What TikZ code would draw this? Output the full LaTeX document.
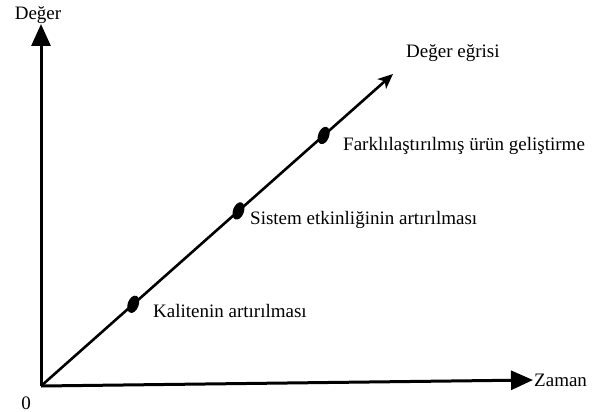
\documentclass[tikz,border=0pt]{standalone}
\usepackage{fontspec}
\setmainfont{Liberation Serif}
\usetikzlibrary{arrows.meta,shapes.geometric}

\begin{document}
\begin{tikzpicture}[x=1pt, y=-1pt, font=\fontsize{19}{22}\selectfont,
		axis/.style={line width=3pt, -{Triangle[length=22pt,width=19pt]}},
		curve/.style={line width=2.6pt, -{Stealth[length=15pt,width=13pt,inset=4pt]}},
		dot/.style={ellipse, fill, inner sep=0pt, minimum width=11pt, minimum height=18pt, rotate=-20},
		lbl/.style={inner sep=0pt}]
		\useasboundingbox (0,0) rectangle (594,412);
		\coordinate (O) at (41,386);
		\coordinate (ytip) at (41,24);
		\coordinate (xtip) at (533,380);
		\coordinate (vtip) at (393,74);
		\draw[axis] (O) -- (ytip);
		\draw[axis] (O) -- (xtip);
		\draw[curve] (O) -- (vtip)
			node[dot, pos=0.262] (d1) {}
			node[dot, pos=0.561] (d2) {}
			node[dot, pos=0.803] (d3) {};
		\node[lbl] (ylab) at (38,15) {Değer};
		\node[lbl, anchor=west] (xlab) at (534,380) {Zaman};
		\node[lbl] (zero) at (26,403) {0};
		\node[lbl, anchor=west] (vlab) at (406,53) {Değer eğrisi};
		\node[lbl, anchor=west] (l1) at (153,311) {Kalitenin artırılması};
		\node[lbl, anchor=west] (l2) at (250,220) {Sistem etkinliğinin artırılması};
		\node[lbl, anchor=west] (l3) at (343,146) {Farklılaştırılmış ürün geliştirme};
	\end{tikzpicture}
\end{document}
